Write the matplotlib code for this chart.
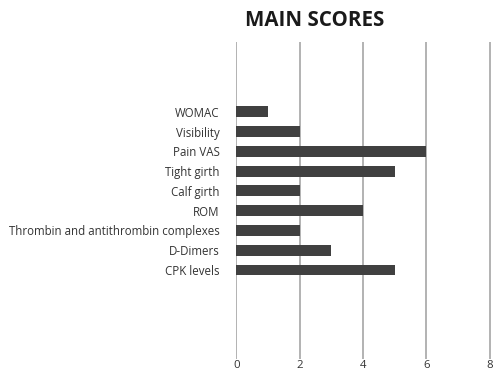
import numpy as np
import matplotlib.pyplot as plt

plt.rcParams['font.family'] = ['Open Sans', 'DejaVu Sans']

labels = ['WOMAC', 'Visibility', 'Pain VAS', 'Tight girth', 'Calf girth', 'ROM',
          'Thrombin and antithrombin complexes', 'D-Dimers', 'CPK levels']
scores = [1, 2, 6, 5, 2, 4, 2, 3, 5]
xticks = [0, 2, 4, 6, 8]

fig = plt.figure(figsize=(4.93, 3.76), dpi=100)
ax = fig.add_axes([0.4797, 0.045, 0.5203, 0.842])

# category rows sit in the middle of a 16-slot axis (blank rows above/below)
ypos = np.arange(len(labels)) + 3
ax.barh(ypos, scores, height=0.55, color='#404040', zorder=3)
ax.set_ylim(15.5, -0.5)
ax.set_xlim(0, 8.1)

ax.set_yticks(ypos)
ax.set_yticklabels(labels, fontsize=8.3, color='#333333')
ax.set_xticks(xticks)
ax.set_xticklabels([str(t) for t in xticks], fontsize=8.2, color='#333333')
ax.tick_params(length=0, pad=1)
ax.tick_params(axis='y', pad=12)

for t in xticks:
    ax.axvline(t, color='#acacac', lw=1.3, zorder=1)
for s in ax.spines.values():
    s.set_visible(False)

fig.text(0.638, 0.945, 'MAIN SCORES', ha='center', va='center',
         fontsize=14.8, fontweight='bold', color='#1a1a1a')

plt.savefig('out.png', dpi=100)
